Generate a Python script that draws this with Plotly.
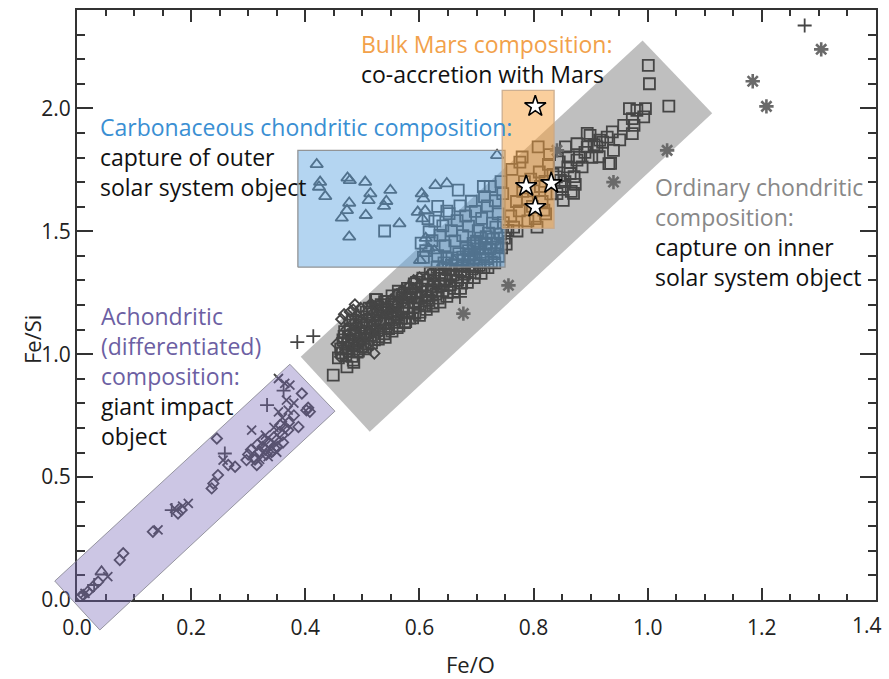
import plotly.graph_objects as go

# ---------------- data ----------------
sq_x = [0.449, 0.473, 0.484, 0.458, 0.462, 0.466,
        0.471, 0.474, 0.469, 0.477, 0.481, 0.479, 0.485, 0.483, 0.488, 0.491,
        0.492, 0.494, 0.497, 0.501, 0.499, 0.503, 0.506, 0.509, 0.512, 0.508,
        0.514, 0.518, 0.521, 0.519, 0.523, 0.525, 0.527, 0.531, 0.529, 0.533,
        0.538, 0.541, 0.543, 0.539, 0.546, 0.549, 0.552, 0.551, 0.556, 0.558,
        0.561, 0.559, 0.563, 0.568, 0.571, 0.569, 0.574, 0.578, 0.581, 0.579,
        0.583, 0.586, 0.589, 0.592, 0.591, 0.596, 0.598, 0.601, 0.603, 0.606,
        0.609, 0.611, 0.613, 0.616, 0.619, 0.621, 0.623, 0.626, 0.629, 0.631,
        0.633, 0.637, 0.639, 0.641, 0.643, 0.646, 0.649, 0.651, 0.654, 0.657,
        0.659, 0.661, 0.664, 0.667, 0.669, 0.672, 0.674, 0.677, 0.679, 0.682,
        0.684, 0.687, 0.689, 0.692, 0.694, 0.697, 0.699, 0.702, 0.705, 0.707,
        0.711, 0.713, 0.716, 0.718, 0.721, 0.723, 0.726, 0.729, 0.731, 0.734,
        0.737, 0.739, 0.742, 0.744, 0.747, 0.749, 0.752, 0.755,
        0.525, 0.527,
        0.465, 0.476, 0.486, 0.495, 0.504, 0.513, 0.522, 0.532, 0.542, 0.553,
        0.562, 0.572, 0.582, 0.593, 0.604, 0.614, 0.624, 0.634, 0.644, 0.655,
        0.665, 0.675, 0.685, 0.695, 0.706, 0.716, 0.726,
        0.468, 0.478, 0.489, 0.498, 0.507, 0.517, 0.526, 0.536, 0.545, 0.555,
        0.565, 0.575, 0.585, 0.595, 0.605, 0.615, 0.625, 0.635, 0.645, 0.656,
        0.666, 0.676, 0.686, 0.696, 0.708, 0.717,
        0.482, 0.493, 0.505, 0.516, 0.528, 0.540, 0.552, 0.564, 0.576, 0.588,
        0.600, 0.612, 0.624, 0.636, 0.648, 0.660, 0.672, 0.684, 0.696, 0.708,
        0.720, 0.732,
        0.539, 0.607, 0.648, 0.689, 0.700, 0.736, 0.603, 0.611, 0.617, 0.622,
        0.627, 0.632, 0.636, 0.641, 0.645, 0.652, 0.656, 0.662, 0.666, 0.671,
        0.676, 0.681, 0.686, 0.691, 0.698, 0.703, 0.709, 0.714, 0.719, 0.724,
        0.728, 0.733, 0.738, 0.743, 0.746, 0.632, 0.648, 0.615, 0.668, 0.712,
        0.765, 0.806, 0.780, 0.808, 0.760, 0.770, 0.775, 0.781, 0.789, 0.795,
        0.800, 0.810, 0.815, 0.820, 0.826, 0.830, 0.834, 0.771, 0.790, 0.821,
        0.762, 0.784, 0.798, 0.812, 0.828, 0.776, 0.803, 0.818,
        0.841, 0.852, 0.870, 0.847, 0.864, 0.861, 0.876, 0.856, 0.876, 0.894,
        0.911, 0.932, 0.940, 0.929, 0.899, 0.894, 0.938, 0.973, 0.973, 0.976,
        0.993, 0.968, 0.981, 0.996, 1.037, 1.003, 1.001, 0.935, 0.850, 0.860,
        0.871, 0.880, 0.885, 0.890, 0.902, 0.906, 0.915, 0.921, 0.840, 0.845,
        0.855, 0.866, 0.873, 0.958, 0.951, 0.916]
sq_y = [0.915, 0.948, 0.976, 0.985, 1.021, 1.058,
        0.998, 1.041, 1.092, 1.012, 1.054, 1.103, 0.967, 1.138, 1.079, 1.008,
        1.046, 1.117, 1.083, 1.031, 1.152, 1.064, 1.108, 1.041, 1.187, 1.138,
        1.077, 1.112, 1.058, 1.164, 1.222, 1.192, 1.097, 1.138, 1.071, 1.201,
        1.083, 1.124, 1.168, 1.214, 1.104, 1.151, 1.237, 1.192, 1.129, 1.171,
        1.108, 1.211, 1.256, 1.146, 1.185, 1.229, 1.128, 1.168, 1.211, 1.268,
        1.147, 1.243, 1.189, 1.166, 1.286, 1.228, 1.205, 1.171, 1.253, 1.309,
        1.197, 1.236, 1.282, 1.219, 1.331, 1.262, 1.208, 1.297, 1.245, 1.353,
        1.228, 1.279, 1.321, 1.258, 1.371, 1.306, 1.251, 1.344, 1.283, 1.392,
        1.322, 1.268, 1.362, 1.301, 1.409, 1.341, 1.289, 1.383, 1.326, 1.431,
        1.311, 1.363, 1.408, 1.347, 1.451, 1.332, 1.386, 1.428, 1.361, 1.472,
        1.405, 1.352, 1.447, 1.389, 1.492, 1.428, 1.375, 1.468, 1.409, 1.517,
        1.451, 1.398, 1.488, 1.432, 1.535, 1.472, 1.448, 1.503,
        1.222, 1.192,
        1.005, 1.025, 1.035, 1.062, 1.085, 1.092, 1.118, 1.128, 1.141, 1.163,
        1.179, 1.195, 1.232, 1.212, 1.231, 1.255, 1.274, 1.287, 1.301, 1.318,
        1.341, 1.357, 1.379, 1.392, 1.414, 1.433, 1.452,
        1.072, 1.118, 1.131, 1.135, 1.171, 1.182, 1.158, 1.181, 1.215, 1.202,
        1.241, 1.248, 1.266, 1.292, 1.281, 1.302, 1.321, 1.331, 1.352, 1.361,
        1.382, 1.395, 1.421, 1.441, 1.452, 1.478,
        0.991, 1.012, 1.022, 1.046, 1.061, 1.068, 1.094, 1.115, 1.132, 1.148,
        1.158, 1.182, 1.196, 1.212, 1.235, 1.252, 1.268, 1.292, 1.311, 1.329,
        1.352, 1.371,
        1.501, 1.394, 1.390, 1.402, 1.460, 1.436, 1.452, 1.421, 1.498, 1.462,
        1.541, 1.401, 1.483, 1.522, 1.441, 1.572, 1.502, 1.461, 1.543, 1.603,
        1.482, 1.562, 1.521, 1.622, 1.581, 1.502, 1.552, 1.641, 1.603, 1.682,
        1.533, 1.624, 1.571, 1.702, 1.653, 1.601, 1.582, 1.551, 1.667, 1.682,
        1.517, 1.517, 1.802, 1.843, 1.562, 1.621, 1.583, 1.662, 1.632, 1.712,
        1.664, 1.741, 1.621, 1.703, 1.772, 1.652, 1.731, 1.501, 1.542, 1.571,
        1.752, 1.702, 1.601, 1.682, 1.812, 1.781, 1.551, 1.586,
        1.653, 1.626, 1.654, 1.707, 1.735, 1.802, 1.789, 1.843, 1.856, 1.843,
        1.843, 1.775, 1.829, 1.883, 1.890, 1.898, 1.904, 1.897, 1.958, 1.931,
        1.965, 1.999, 1.992, 1.999, 2.009, 2.100, 2.175, 1.776, 1.682, 1.762,
        1.722, 1.801, 1.762, 1.821, 1.801, 1.852, 1.803, 1.862, 1.721, 1.782,
        1.702, 1.662, 1.691, 1.931, 1.872, 1.871]

dia_x = [0.461, 0.470, 0.480, 0.478, 0.484, 0.490, 0.491, 0.500, 0.510, 0.520,
         0.525, 0.530, 0.540, 0.550, 0.560, 0.570, 0.580, 0.590, 0.600, 0.620,
         0.640, 0.660, 0.502, 0.511, 0.532, 0.561, 0.602, 0.631, 0.472, 0.455,
         0.521, 0.545, 0.572, 0.463, 0.468, 0.487, 0.497, 0.515,
         0.475, 0.483, 0.492, 0.503, 0.513, 0.524, 0.535, 0.547, 0.558, 0.568,
         0.578, 0.588, 0.598, 0.486, 0.496, 0.507, 0.518,
         0.006, 0.011, 0.019, 0.028, 0.037, 0.075, 0.081, 0.133, 0.177, 0.183,
         0.236, 0.239, 0.247, 0.265, 0.277, 0.245, 0.315, 0.297, 0.300, 0.310,
         0.320, 0.325, 0.330, 0.335, 0.340, 0.345, 0.350, 0.355, 0.360, 0.365,
         0.370, 0.305, 0.316, 0.326, 0.341, 0.351, 0.361, 0.388, 0.394, 0.402,
         0.408, 0.405, 0.380, 0.371, 0.356, 0.312, 0.332, 0.346]
dia_y = [0.989, 1.021, 1.062, 1.172, 1.181, 1.158, 1.121, 1.098, 1.148, 1.171,
         1.132, 1.202, 1.191, 1.221, 1.243, 1.262, 1.272, 1.301, 1.312, 1.331,
         1.362, 1.382, 1.021, 1.042, 1.091, 1.141, 1.241, 1.282, 1.101, 1.041,
         1.003, 1.102, 1.211, 1.142, 1.162, 1.202, 1.188, 1.205,
         1.082, 1.125, 1.071, 1.128, 1.092, 1.152, 1.165, 1.168, 1.198, 1.232,
         1.241, 1.268, 1.278, 1.032, 1.052, 1.072, 1.121,
         0.013, 0.020, 0.034, 0.054, 0.074, 0.163, 0.190, 0.278, 0.352, 0.366,
         0.454, 0.474, 0.508, 0.549, 0.542, 0.657, 0.549, 0.569, 0.592, 0.581,
         0.603, 0.622, 0.611, 0.642, 0.631, 0.662, 0.651, 0.682, 0.671, 0.702,
         0.691, 0.611, 0.632, 0.653, 0.602, 0.622, 0.641, 0.704, 0.840, 0.772,
         0.766, 0.782, 0.751, 0.722, 0.712, 0.571, 0.592, 0.618]

tri_x = [0.420, 0.426, 0.424, 0.435, 0.474, 0.478, 0.505, 0.514, 0.511, 0.477,
         0.473, 0.464, 0.506, 0.477, 0.549, 0.542, 0.538, 0.565, 0.604, 0.607,
         0.597, 0.610, 0.628, 0.648, 0.736, 0.605, 0.611, 0.616, 0.601, 0.626,
         0.043]
tri_y = [1.772, 1.700, 1.680, 1.642, 1.717, 1.707, 1.700, 1.653, 1.626, 1.615,
         1.585, 1.554, 1.565, 1.477, 1.667, 1.622, 1.602, 1.531, 1.653, 1.633,
         1.578, 1.583, 1.687, 1.694, 1.809, 1.551, 1.472, 1.431, 1.382, 1.421,
         0.115]

xm_x = [0.014, 0.054, 0.142, 0.171, 0.195, 0.256, 0.306, 0.335, 0.353, 0.364,
        0.373, 0.367, 0.353, 0.370, 0.360, 0.345, 0.330, 0.380, 0.185, 0.350,
        0.320]
xm_y = [0.027, 0.095, 0.285, 0.373, 0.393, 0.569, 0.691, 0.583, 0.901, 0.881,
        0.874, 0.813, 0.765, 0.772, 0.741, 0.702, 0.671, 0.801, 0.382, 0.601,
        0.572]

plus_x = [0.166, 0.259, 0.333, 0.362, 0.386, 0.414, 0.466, 0.671, 1.275, 0.030]
plus_y = [0.366, 0.596, 0.793, 0.852, 1.049, 1.073, 1.065, 1.233, 2.337, 0.061]

ast_x = [1.304, 1.184, 1.208, 1.034, 0.940, 0.756, 0.677, 0.841]
ast_y = [2.240, 2.110, 2.008, 1.829, 1.700, 1.280, 1.165, 1.829]

star_x = [0.803, 0.787, 0.831, 0.803]
star_y = [2.008, 1.683, 1.695, 1.598]

# composition fields (corner points, data units)
ord_x = [0.392, 0.991, 1.113, 0.513]
ord_y = [0.990, 2.276, 1.980, 0.684]
ach_x = [-0.039, 0.373, 0.452, 0.040]
ach_y = [0.077, 0.959, 0.768, -0.122]
carb_x = [0.387, 0.750]
carb_y = [1.354, 1.829]
mars_x = [0.745, 0.836]
mars_y = [1.512, 2.073]

x_tickvals = [0.0, 0.2, 0.4, 0.6, 0.8, 1.0, 1.2, 1.4]
x_ticktext = ["0.0", "0.2", "0.4", "0.6", "0.8", "1.0", "1.2", ""]
last_x_label = "1.4"   # drawn as an annotation so it stays inside the page edge

X_RANGE = [0, 1.4]
Y_RANGE = [0, 2.4]

FONT = "Open Sans"
MK = "#454545"

fig = go.Figure()

def pts(x, y, symbol, size, color=MK, width=1.8):
    fig.add_trace(go.Scatter(
        x=x, y=y, mode="markers", hoverinfo="skip",
        marker=dict(symbol=symbol, size=size, color=color,
                    line=dict(color=color, width=width))))

pts(sq_x, sq_y, "square-open", 11)
pts(dia_x, dia_y, "diamond-open", 8)
pts(tri_x, tri_y, "triangle-up-open", 11)
pts(xm_x, xm_y, "x-thin-open", 9)
pts(plus_x, plus_y, "cross-thin-open", 10)
pts(ast_x, ast_y, "asterisk-open", 12, color="#6a6a6a", width=2.6)

# translucent fields drawn over the points
def box(xr, yr, fill, line):
    fig.add_trace(go.Scatter(
        x=[xr[0], xr[1], xr[1], xr[0], xr[0]],
        y=[yr[0], yr[0], yr[1], yr[1], yr[0]],
        mode="lines", fill="toself", fillcolor=fill,
        line=dict(color=line, width=1.3), hoverinfo="skip"))

box(carb_x, carb_y, "rgba(95,165,225,0.47)", "rgba(140,140,140,0.9)")
box(mars_x, mars_y, "rgba(245,160,60,0.5)", "rgba(200,170,140,0.9)")

fig.add_trace(go.Scatter(
    x=star_x, y=star_y, mode="markers", hoverinfo="skip",
    marker=dict(symbol="star", size=16, color="white",
                line=dict(color="black", width=1.6))))

def path(xs, ys):
    return "M " + " L ".join(f"{a},{b}" for a, b in zip(xs, ys)) + " Z"

shapes = [
    dict(type="path", xref="x", yref="y", layer="below",
         path=path(ord_x, ord_y), fillcolor="#bfbfbf", line=dict(width=0)),
    dict(type="path", xref="paper", yref="paper", layer="above",
         path=path([(v - X_RANGE[0]) / (X_RANGE[1] - X_RANGE[0]) for v in ach_x],
                   [(v - Y_RANGE[0]) / (Y_RANGE[1] - Y_RANGE[0]) for v in ach_y]),
         fillcolor="rgba(120,105,185,0.38)",
         line=dict(color="rgba(130,130,140,0.8)", width=1)),
]

ORANGE = "#f2a14a"
BLUE = "#3a8fd3"
GRAY = "#888888"
PURPLE = "#6c5fa3"
BLACK = "#111111"

def span(t, c):
    return f"<span style='color:{c}'>{t}</span>"

blocks = [
    ([("Bulk Mars composition:", ORANGE), ("co-accretion with Mars", BLACK)], 0.494, 2.201),
    ([("Carbonaceous chondritic composition:", BLUE), ("capture of outer", BLACK),
      ("solar system object", BLACK)], 0.037, 1.803),
    ([("Ordinary chondritic", GRAY), ("composition:", GRAY), ("capture on inner", BLACK),
      ("solar system object", BLACK)], 1.009, 1.497),
    ([("Achondritic", PURPLE), ("(differentiated)", PURPLE), ("composition:", PURPLE),
      ("giant impact", BLACK), ("object", BLACK)], 0.039, 0.910),
]
annotations = [
    dict(text="<br>".join(span(t, c) for t, c in lines), x=x, y=y, xref="x", yref="y",
         xanchor="left", yanchor="middle", align="left", showarrow=False,
         font=dict(family=FONT, size=23, color=BLACK))
    for lines, x, y in blocks
]
annotations.append(dict(text="Fe/O", x=(470 - 77) / 799, y=-(664 - 600) / 590,
                        xref="paper", yref="paper", showarrow=False,
                        xanchor="center", yanchor="middle",
                        font=dict(family=FONT, size=22, color="#222")))
annotations.append(dict(text="Fe/Si", x=-(77 - 32) / 799, y=(600 - 340) / 590,
                        xref="paper", yref="paper", showarrow=False, textangle=-90,
                        xanchor="center", yanchor="middle",
                        font=dict(family=FONT, size=22, color="#222")))
annotations.append(dict(text=last_x_label, x=x_tickvals[-1], xref="x",
                        y=-(625 - 600) / 590, yref="paper", xshift=-9,
                        showarrow=False, xanchor="center", yanchor="middle",
                        font=dict(family=FONT, size=21, color="#222")))

axis_common = dict(showgrid=False, zeroline=False, showline=True, linecolor="#333",
                   linewidth=2, mirror="ticks", ticks="inside", tickcolor="#333",
                   tickwidth=2, automargin=False,
                   tickfont=dict(family=FONT, size=21, color="#222"))

fig.update_layout(
    width=889, height=679,
    margin=dict(l=77, r=13, t=10, b=79, autoexpand=False),
    paper_bgcolor="white", plot_bgcolor="white",
    showlegend=False,
    shapes=shapes,
    annotations=annotations,
    xaxis=dict(range=X_RANGE, tickmode="array", tickvals=x_tickvals, ticktext=x_ticktext,
               ticklen=12, ticklabelstandoff=8,
               minor=dict(dtick=0.05, ticks="inside", ticklen=6, tickcolor="#333", tickwidth=1.5),
               **axis_common),
    yaxis=dict(range=Y_RANGE, dtick=0.5, tickformat=".1f", ticklen=16,
               minor=dict(dtick=0.1, ticks="inside", ticklen=8, tickcolor="#333", tickwidth=1.5),
               **axis_common),
)

fig.write_html("out.html")
